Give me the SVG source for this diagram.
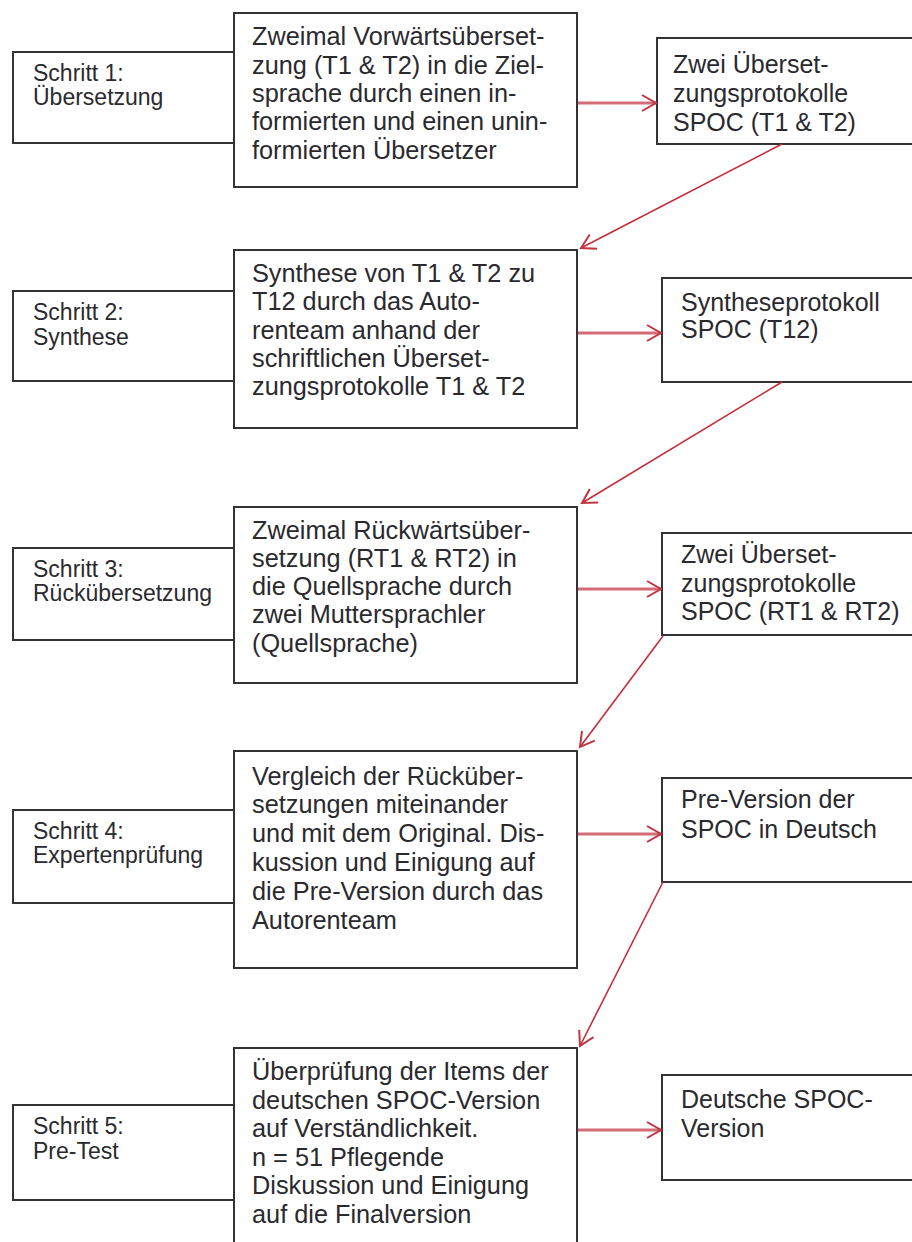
<svg xmlns="http://www.w3.org/2000/svg" width="912" height="1242" viewBox="0 0 912 1242">
<style>
.box{fill:#fff;stroke:#333;stroke-width:2}
text{font-family:"Liberation Sans",Arial,sans-serif;fill:#2a2a2e}
.l{font-size:23px}
.m{font-size:25.3px}
.r{font-size:25px}
.h{stroke:#d46c78;stroke-width:3;fill:none}
.d{stroke:#c42e3c;stroke-width:1.6;fill:none}
</style>
<defs>
<marker id="ah" markerUnits="userSpaceOnUse" markerWidth="20" markerHeight="20" viewBox="0 0 20 20" refX="17" refY="10" orient="auto">
<path d="M3,2 L17,10 L3,18" fill="none" stroke="#c03444" stroke-width="2"/>
</marker>
</defs>
<rect x="0" y="0" width="912" height="1242" fill="#fff"/>

<g id="step1">
<rect class="box" x="13" y="52" width="221" height="91"/>
<text class="l" x="33" y="81">Schritt 1:</text>
<text class="l" x="33" y="105">Übersetzung</text>
</g>
<g id="task1">
<rect class="box" x="234" y="13" width="343" height="174"/>
<text class="m" x="252" y="45">Zweimal Vorwärtsüberset-</text>
<text class="m" x="252" y="74">zung (T1 &amp; T2) in die Ziel-</text>
<text class="m" x="252" y="102">sprache durch einen in-</text>
<text class="m" x="252" y="130">formierten und einen unin-</text>
<text class="m" x="252" y="159">formierten Übersetzer</text>
</g>
<g id="out1">
<rect class="box" x="657" y="38" width="270" height="106"/>
<text class="r" x="673" y="73">Zwei Überset-</text>
<text class="r" x="673" y="102">zungsprotokolle</text>
<text class="r" x="673" y="131">SPOC (T1 &amp; T2)</text>
</g>

<g id="step2">
<rect class="box" x="13" y="291" width="221" height="90"/>
<text class="l" x="33" y="320">Schritt 2:</text>
<text class="l" x="33" y="345">Synthese</text>
</g>
<g id="task2">
<rect class="box" x="234" y="250" width="343" height="178"/>
<text class="m" x="252" y="282">Synthese von T1 &amp; T2 zu</text>
<text class="m" x="252" y="310">T12 durch das Auto-</text>
<text class="m" x="252" y="339">renteam anhand der</text>
<text class="m" x="252" y="367">schriftlichen Überset-</text>
<text class="m" x="252" y="395">zungsprotokolle T1 &amp; T2</text>
</g>
<g id="out2">
<rect class="box" x="662" y="278" width="270" height="104"/>
<text class="r" x="681" y="311">Syntheseprotokoll</text>
<text class="r" x="681" y="338">SPOC (T12)</text>
</g>

<g id="step3">
<rect class="box" x="13" y="548" width="221" height="92"/>
<text class="l" x="33" y="577">Schritt 3:</text>
<text class="l" x="33" y="601">Rückübersetzung</text>
</g>
<g id="task3">
<rect class="box" x="234" y="507" width="343" height="176"/>
<text class="m" x="252" y="539">Zweimal Rückwärtsüber-</text>
<text class="m" x="252" y="567">setzung (RT1 &amp; RT2) in</text>
<text class="m" x="252" y="595">die Quellsprache durch</text>
<text class="m" x="252" y="623">zwei Muttersprachler</text>
<text class="m" x="252" y="652">(Quellsprache)</text>
</g>
<g id="out3">
<rect class="box" x="662" y="533" width="270" height="102"/>
<text class="r" x="681" y="563">Zwei Überset-</text>
<text class="r" x="681" y="592">zungsprotokolle</text>
<text class="r" x="681" y="620">SPOC (RT1 &amp; RT2)</text>
</g>

<g id="step4">
<rect class="box" x="13" y="810" width="221" height="93"/>
<text class="l" x="33" y="839">Schritt 4:</text>
<text class="l" x="33" y="863">Expertenprüfung</text>
</g>
<g id="task4">
<rect class="box" x="234" y="751" width="343" height="217"/>
<text class="m" x="252" y="785">Vergleich der Rücküber-</text>
<text class="m" x="252" y="813">setzungen miteinander</text>
<text class="m" x="252" y="842">und mit dem Original. Dis-</text>
<text class="m" x="252" y="871">kussion und Einigung auf</text>
<text class="m" x="252" y="900">die Pre-Version durch das</text>
<text class="m" x="252" y="929">Autorenteam</text>
</g>
<g id="out4">
<rect class="box" x="662" y="778" width="270" height="104"/>
<text class="r" x="681" y="808">Pre-Version der</text>
<text class="r" x="681" y="838">SPOC in Deutsch</text>
</g>

<g id="step5">
<rect class="box" x="13" y="1105" width="221" height="95"/>
<text class="l" x="33" y="1134">Schritt 5:</text>
<text class="l" x="33" y="1159">Pre-Test</text>
</g>
<g id="task5">
<rect class="box" x="234" y="1048" width="343" height="210"/>
<text class="m" x="252" y="1080">Überprüfung der Items der</text>
<text class="m" x="252" y="1109">deutschen SPOC-Version</text>
<text class="m" x="252" y="1137">auf Verständlichkeit.</text>
<text class="m" x="252" y="1166">n = 51 Pflegende</text>
<text class="m" x="252" y="1194">Diskussion und Einigung</text>
<text class="m" x="252" y="1223">auf die Finalversion</text>
</g>
<g id="out5">
<rect class="box" x="662" y="1075" width="270" height="105"/>
<text class="r" x="681" y="1108">Deutsche SPOC-</text>
<text class="r" x="681" y="1137">Version</text>
</g>

<g id="connectors">
<line class="h" x1="578" y1="103" x2="656" y2="103" marker-end="url(#ah)"/>
<line class="h" x1="578" y1="333" x2="661" y2="333" marker-end="url(#ah)"/>
<line class="h" x1="578" y1="589" x2="661" y2="589" marker-end="url(#ah)"/>
<line class="h" x1="578" y1="834" x2="661" y2="834" marker-end="url(#ah)"/>
<line class="h" x1="578" y1="1130" x2="661" y2="1130" marker-end="url(#ah)"/>
<line class="d" x1="782" y1="144" x2="581" y2="248" marker-end="url(#ah)"/>
<line class="d" x1="782" y1="382" x2="582" y2="503" marker-end="url(#ah)"/>
<line class="d" x1="663" y1="636" x2="580" y2="747" marker-end="url(#ah)"/>
<line class="d" x1="663" y1="882" x2="580" y2="1046" marker-end="url(#ah)"/>
</g>
</svg>
